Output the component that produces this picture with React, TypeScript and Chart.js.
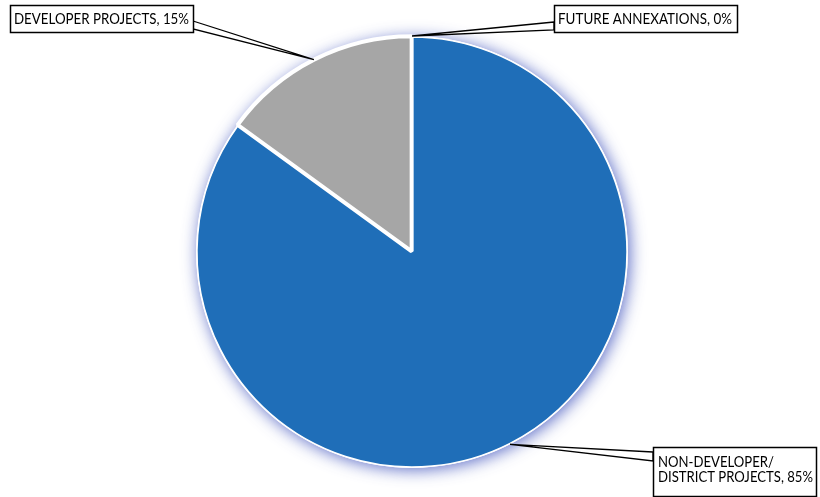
import React, { useEffect, useRef } from "react";
import { Chart, registerables } from "chart.js";
Chart.register(...registerables);

const categories = ["NON-DEVELOPER/\nDISTRICT PROJECTS", "DEVELOPER PROJECTS", "FUTURE ANNEXATIONS"];
const shares = [85, 15, 0];
const sliceColors = ["#1f6eb8", "#a6a6a6", "#5b9bd5"];
const sliceBorders = [1.5, 4, 0];
const sliceOffsets = [0, 3, 0];

// callout layout (box, text, attach points on box edge)
const callouts = [
  { box: [653, 447, 163, 49], tx: 658, base: [467, 482], targetW: 155, attach: [[653, 452], [653, 461]] },
  { box: [10, 5, 183, 27], tx: 14, base: [24], targetW: 175, attach: [[193, 21], [193, 29]] },
  { box: [554, 5, 183, 27], tx: 558, base: [24], targetW: 174, attach: [[554, 22], [554, 30]] },
];

const FONT = "Lato, 'Open Sans', sans-serif";

const glowPlugin = {
  id: "glow",
  beforeDatasetsDraw(chart: any) {
    const arc = chart.getDatasetMeta(0).data[0];
    if (!arc) return;
    const ctx = chart.ctx;
    ctx.save();
    ctx.shadowColor = "rgba(55,75,185,0.8)";
    ctx.shadowBlur = 16;
    ctx.shadowOffsetX = 2;
    ctx.shadowOffsetY = 2;
    ctx.beginPath();
    ctx.arc(arc.x, arc.y, arc.outerRadius + 1, 0, Math.PI * 2);
    ctx.fillStyle = "#ffffff";
    ctx.fill();
    ctx.restore();
  },
};

const calloutPlugin = {
  id: "callouts",
  afterDatasetsDraw(chart: any) {
    const ctx = chart.ctx;
    const meta = chart.getDatasetMeta(0);
    meta.data.forEach((arc: any, i: number) => {
      const c = callouts[i];
      if (!c) return;
      const mid = (arc.startAngle + arc.endAngle) / 2;
      const r = arc.outerRadius + 1;
      const tipX = arc.x + Math.cos(mid) * r;
      const tipY = arc.y + Math.sin(mid) * r;
      ctx.save();
      // wedge
      ctx.beginPath();
      ctx.moveTo(c.attach[0][0], c.attach[0][1]);
      ctx.lineTo(tipX, tipY);
      ctx.lineTo(c.attach[1][0], c.attach[1][1]);
      ctx.closePath();
      ctx.fillStyle = "#ffffff";
      ctx.fill();
      ctx.strokeStyle = "#000000";
      ctx.lineWidth = 1.3;
      ctx.stroke();
      // box
      const [bx, by, bw, bh] = c.box;
      ctx.fillStyle = "#ffffff";
      ctx.fillRect(bx, by, bw, bh);
      ctx.lineWidth = 1.5;
      ctx.strokeRect(bx + 0.5, by + 0.5, bw, bh);
      // text
      const lines = (categories[i] + ", " + shares[i] + "%").split("\n");
      ctx.font = `15px ${FONT}`;
      const widest = Math.max(...lines.map((l) => ctx.measureText(l).width));
      const sx = c.targetW / widest;
      ctx.fillStyle = "#000000";
      ctx.textBaseline = "alphabetic";
      ctx.textAlign = "left";
      lines.forEach((l, k) => {
        ctx.save();
        ctx.translate(c.tx, c.base[k]);
        ctx.scale(sx, 1);
        ctx.fillText(l, 0, 0);
        ctx.restore();
      });
      ctx.restore();
    });
  },
};

export default function App() {
  const ref = useRef<HTMLCanvasElement>(null);
  useEffect(() => {
    document.body.style.margin = "0";
    const chart = new Chart(ref.current!, {
      type: "pie",
      data: {
        labels: categories.map((c) => c.replace("\n", " ")),
        datasets: [
          {
            data: shares,
            backgroundColor: sliceColors,
            borderColor: "#ffffff",
            borderWidth: sliceBorders,
            offset: sliceOffsets,
          },
        ],
      },
      options: {
        responsive: false,
        animation: false,
        radius: 215,
        layout: { padding: { left: 4, right: 0, top: 7, bottom: 0 } },
        plugins: { legend: { display: false }, tooltip: { enabled: false } },
      } as any,
      plugins: [glowPlugin, calloutPlugin],
    });
    return () => chart.destroy();
  }, []);
  return (
    <div style={{ position: "absolute", left: 0, top: 0, width: 820, height: 497, background: "#fff" }}>
      <canvas ref={ref} width={820} height={497} style={{ display: "block" }} />
    </div>
  );
}
